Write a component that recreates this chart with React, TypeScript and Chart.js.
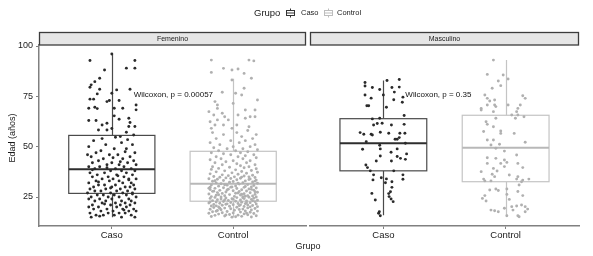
import React, { useEffect, useRef } from "react";
import { Chart, registerables } from "chart.js";
Chart.register(...registerables);

const categories = ["Caso", "Control"];
const facets = ["Femenino", "Masculino"];
const yTicks = [25, 50, 75, 100];
const legendTitle = "Grupo";
const xTitle = "Grupo";
const yTitle = "Edad (años)";
const pLabels = ["Wilcoxon, p = 0.00057", "Wilcoxon, p = 0.35"];
const pLabelPos = [1.18, 76];

// box stats: [lower whisker, Q1, median, Q3, upper whisker]
const femCasoBox = [15, 26.8, 38.8, 55.6, 96];
const femControlBox = [15, 22.9, 31.6, 47.7, 83.7];
const mascCasoBox = [16, 38, 51.7, 63.9, 82.9];
const mascControlBox = [15.2, 32.6, 49.5, 65.6, 93];

// jittered points: [offset from category, age]
const femCasoPts = [
  [0.0, 96], [-0.18, 92.8], [0.19, 92.8], [0.12, 89], [0.19, 89], [-0.06, 88.1], [-0.14, 82.3], [-0.1, 84],
  [-0.17, 80.7], [-0.18, 79.5], [-0.1, 78.5], [-0.12, 76.2], [-0.18, 73.6], [-0.15, 73.6], [0.04, 78.2],
  [0.15, 78.5], [-0.04, 72.4], [-0.02, 72.9], [0.0, 76.5], [0.06, 72.9], [-0.19, 69.1], [-0.14, 69.6],
  [-0.12, 68.9], [0.02, 69.1], [0.09, 69.1], [0.2, 70.7], [0.2, 68.3], [-0.19, 63], [-0.13, 63], [-0.08, 60.8],
  [-0.04, 61.6], [0.02, 65.3], [0.06, 63.6], [0.14, 64.1], [-0.04, 58.3], [0.0, 59], [-0.11, 58.3], [0.15, 62],
  [0.14, 60], [0.19, 60], [0.12, 57.2], [0.18, 55.8], [0.07, 55], [0.03, 54.7],
  [-0.15, 53], [0.08, 52], [-0.05, 51], [0.17, 51], [-0.19, 50], [0.02, 49], [0.12, 49], [-0.09, 48], [0.19, 47],
  [-0.13, 47], [0.05, 46], [-0.02, 46], [0.15, 45], [-0.17, 45], [0.09, 44], [-0.07, 44], [0.18, 43], [-0.11, 43],
  [0.0, 42], [0.13, 42], [-0.16, 42], [0.06, 41], [-0.04, 41], [0.2, 41], [-0.19, 40], [0.1, 40], [-0.1, 40],
  [0.03, 39], [0.16, 39], [-0.14, 39], [-0.01, 38], [0.08, 38], [0.19, 38], [-0.18, 37], [-0.06, 37], [0.12, 37],
  [0.04, 36], [-0.12, 36], [0.17, 36], [-0.03, 35], [0.1, 35], [-0.16, 35], [0.01, 34], [0.14, 34], [-0.08, 34],
  [0.2, 34], [-0.13, 33], [0.06, 33], [-0.02, 33], [0.16, 32], [-0.19, 32], [0.09, 32], [-0.06, 31], [0.03, 31],
  [0.18, 31], [-0.11, 31], [0.11, 30], [-0.15, 30], [0.0, 30], [0.15, 30], [-0.05, 29], [0.07, 29], [-0.18, 29],
  [0.19, 29], [-0.09, 28], [0.04, 28], [0.13, 28], [-0.14, 28], [-0.01, 27], [0.09, 27], [-0.2, 27], [0.17, 27],
  [-0.07, 26], [0.02, 26], [0.12, 26], [-0.12, 26], [0.06, 25], [-0.17, 25], [0.2, 25], [-0.03, 25], [0.14, 24],
  [-0.1, 24], [0.0, 24], [-0.19, 24], [0.08, 23], [-0.05, 23], [0.16, 23], [-0.14, 23], [0.03, 22], [0.11, 22],
  [-0.08, 22], [0.19, 22], [-0.16, 21], [-0.01, 21], [0.07, 21], [0.15, 21], [-0.11, 20], [0.04, 20], [-0.19, 20],
  [0.12, 20], [-0.04, 19], [0.09, 19], [0.18, 19], [-0.15, 19], [0.01, 18], [-0.09, 18], [0.14, 18], [0.2, 18],
  [-0.18, 17], [0.06, 17], [-0.03, 17], [0.11, 17], [-0.13, 16], [0.16, 16], [0.02, 16], [-0.07, 16], [0.19, 15],
  [-0.17, 15], [0.08, 15], [-0.1, 15.5], [0.13, 53.5], [-0.08, 54], [0.01, 44.5], [-0.2, 46], [0.11, 47.5],
  [-0.04, 39.5], [0.05, 35.5], [-0.11, 32.5], [0.17, 26.5], [-0.06, 21.5], [0.1, 18.5], [-0.16, 38.5], [0.07, 42.5],
  [0.14, 33.5], [-0.01, 29.5],
];

const femControlPts = [
  [-0.18, 93], [0.13, 93], [0.17, 92.6], [-0.18, 86.9], [-0.08, 88.9], [-0.01, 88.1], [0.04, 88.6], [0.09, 86.4],
  [0.15, 84], [-0.01, 83.1], [-0.09, 77], [0.02, 76.5], [0.07, 75.7], [0.09, 79], [0.2, 73.2], [-0.15, 72.4],
  [0.0, 71.5], [-0.13, 70.7], [-0.13, 69], [0.1, 68.2], [-0.2, 67.4], [0.18, 68.2], [-0.16, 65.7], [-0.09, 66.6],
  [-0.07, 64.9], [0.04, 65.7], [0.14, 64.9], [-0.19, 62.4], [-0.13, 63.3], [-0.04, 63.3], [0.1, 64.1], [0.18, 64.9],
  [-0.15, 60.8], [-0.08, 60.8], [0.03, 60.8], [0.13, 59.9], [-0.01, 59.1], [-0.18, 59.1],
  [0.12, 58], [-0.17, 57], [0.03, 57], [0.19, 56], [-0.08, 56], [0.07, 55], [-0.14, 54], [0.16, 54], [-0.02, 53],
  [0.1, 53], [-0.19, 52], [0.05, 52], [0.18, 51], [-0.11, 51], [0.0, 50],
  [0.14, 50], [-0.16, 49.5], [0.08, 49], [-0.05, 49], [0.2, 48.5], [-0.12, 48], [0.02, 48], [0.12, 47.5], [-0.18, 47],
  [0.06, 47], [-0.08, 46.5], [0.17, 46], [-0.02, 46], [0.1, 45.5], [-0.14, 45], [0.04, 45], [0.19, 44.5], [-0.1, 44],
  [0.08, 44], [-0.19, 43.5], [0.0, 43], [0.14, 43], [-0.06, 42.5], [0.11, 42], [-0.15, 42], [0.03, 41.5], [0.18, 41],
  [-0.09, 41], [0.06, 40.5], [-0.17, 40],
  [0.13, 40], [-0.03, 39.8], [0.09, 39.5], [-0.12, 39.2], [0.19, 39], [-0.18, 38.7], [0.02, 38.5], [0.15, 38.2],
  [-0.07, 38], [0.07, 37.7], [-0.14, 37.5], [0.2, 37.3], [-0.01, 37], [0.11, 36.8], [-0.19, 36.5], [0.04, 36.3],
  [-0.09, 36], [0.16, 35.8], [-0.04, 35.6], [0.09, 35.4], [-0.16, 35.2], [0.13, 35], [0.01, 35], [-0.11, 34.8],
  [0.18, 34.7],
  [-0.06, 34.5], [0.06, 34.3], [-0.2, 34.1], [0.14, 34], [-0.13, 33.8], [0.03, 33.6], [0.19, 33.4], [-0.08, 33.2],
  [0.1, 33], [-0.17, 32.8], [0.0, 32.7], [0.16, 32.5], [-0.03, 32.3], [0.08, 32.1], [-0.14, 32], [0.2, 31.8],
  [-0.1, 31.6], [0.05, 31.4], [0.12, 31.2], [-0.18, 31], [-0.05, 30.9], [0.17, 30.7], [0.02, 30.5], [-0.12, 30.4],
  [0.1, 30.2], [-0.01, 30], [0.15, 30], [-0.19, 29.9], [0.07, 34.9], [-0.15, 33.1], [0.04, 31.9], [0.18, 32.9],
  [-0.07, 31.1], [0.13, 33.7], [-0.02, 34.2],
  [0.09, 29.8], [-0.08, 29.6], [0.19, 29.5], [-0.15, 29.3], [0.03, 29.2], [0.13, 29], [-0.04, 28.9], [-0.19, 28.7],
  [0.07, 28.6], [0.17, 28.4], [-0.11, 28.3], [0.0, 28.1], [0.11, 28], [-0.17, 27.8], [0.05, 27.7], [-0.06, 27.5],
  [0.2, 27.4], [-0.13, 27.2], [0.14, 27.1], [0.02, 26.9], [-0.09, 26.8], [0.09, 26.6], [-0.2, 26.5], [0.18, 26.3],
  [-0.03, 26.2], [0.06, 26], [-0.14, 25.9], [0.12, 25.7], [-0.07, 25.6], [0.16, 25.5], [0.01, 25.3], [-0.18, 25.2],
  [0.08, 25.1], [-0.1, 25], [0.19, 25], [-0.02, 29.9], [0.15, 28.8], [-0.16, 27.9], [0.04, 27], [-0.12, 26.1],
  [0.1, 25.4], [-0.05, 28.5], [0.18, 27.6], [-0.2, 29.4], [0.07, 26.4],
  [0.13, 24.9], [-0.15, 24.8], [0.03, 24.7], [-0.06, 24.5], [0.17, 24.4], [-0.19, 24.3], [0.09, 24.2], [-0.1, 24],
  [0.0, 23.9], [0.15, 23.8], [-0.13, 23.7], [0.06, 23.5], [0.2, 23.4], [-0.04, 23.3], [-0.17, 23.2], [0.11, 23],
  [0.02, 22.9], [-0.08, 22.8], [0.18, 22.7], [-0.14, 22.5], [0.07, 22.4], [-0.02, 22.3], [0.14, 22.2], [-0.2, 22],
  [-0.11, 21.9], [0.04, 21.8], [0.1, 21.7], [0.19, 21.5], [-0.06, 21.4], [-0.16, 21.3], [0.0, 21.2], [0.12, 21],
  [-0.09, 20.9], [0.16, 20.8], [0.05, 20.7], [-0.18, 20.5], [-0.03, 20.4], [0.09, 20.3], [0.2, 20.2], [-0.12, 20],
  [0.08, 24.6], [-0.01, 24.1], [-0.07, 23.6], [0.16, 23.1], [-0.19, 22.6], [0.11, 22.1], [-0.05, 21.6], [0.06, 21.1],
  [-0.14, 20.6], [0.14, 20.1],
  [0.03, 19.9], [-0.16, 19.8], [0.12, 19.6], [-0.07, 19.5], [0.18, 19.3], [-0.02, 19.2], [0.08, 19], [-0.19, 18.9],
  [-0.1, 18.7], [0.15, 18.6], [0.01, 18.4], [-0.13, 18.3], [0.1, 18.1], [0.2, 18], [-0.05, 17.8], [-0.17, 17.7],
  [0.06, 17.5], [0.14, 17.4], [-0.09, 17.2], [0.0, 17.1], [-0.2, 16.9], [0.17, 16.8], [0.09, 16.6], [-0.12, 16.5],
  [-0.03, 16.3], [0.12, 16.2], [0.04, 16], [-0.15, 15.9], [0.19, 15.7], [-0.07, 15.6], [0.07, 15.4], [-0.18, 15.3],
  [0.15, 15.1], [-0.01, 15], [-0.11, 19.4], [0.05, 18.8], [-0.14, 17.9], [0.11, 17], [-0.06, 16.1], [0.02, 15.2],
];

const mascCasoPts = [
  [0.03, 82.9], [0.13, 83.4], [-0.15, 81.9], [-0.15, 80.1], [-0.09, 79.4], [-0.03, 78.4], [0.07, 79.4], [0.13, 79.6],
  [0.09, 77.1], [-0.15, 75.7], [0.0, 75.7], [-0.1, 74.1], [0.16, 74.6], [0.085, 73.3], [-0.135, 70.3], [-0.12, 70.3],
  [0.025, 69.6], [0.155, 72.1], [0.17, 65.5], [-0.09, 63.8], [-0.03, 64.1], [-0.05, 61.5], [-0.01, 61.6],
  [-0.08, 60.8], [0.066, 60.8], [0.17, 61.1], [-0.19, 57], [-0.16, 56.2], [-0.1, 56.2], [-0.09, 55.8],
  [-0.025, 57.2], [0.044, 56.7], [0.135, 56.7], [0.176, 56.7], [0.13, 54.5], [0.113, 53.7], [0.096, 53.7],
  [-0.14, 52.5], [0.18, 51.7], [-0.03, 50.7], [-0.17, 48.7], [-0.025, 48.9], [0.113, 48.9], [0.063, 47.2],
  [-0.025, 45.4], [0.113, 45.1], [0.14, 44.2], [0.19, 46.4], [0.18, 43.7], [0.066, 42.9], [-0.058, 42.9],
  [-0.143, 40.9], [-0.13, 39.6], [-0.107, 38], [0.085, 38], [-0.08, 36], [-0.017, 34.6], [0.16, 36],
  [-0.085, 33.5], [0.16, 33.8], [0.025, 34], [0.017, 32.1], [0.07, 32.6], [0.07, 29.8], [-0.094, 26.8],
  [0.058, 27.6], [0.047, 25.2], [0.063, 24], [-0.066, 23.5], [-0.033, 17.7], [-0.039, 16.9], [-0.025, 15.7],
  [0.08, 22.7], [0.044, 26.7],
];

const mascControlPts = [
  [-0.1, 93], [-0.15, 85.9], [-0.02, 85.6], [-0.06, 82.6], [0.02, 83.6], [-0.04, 80.3], [-0.11, 79], [-0.17, 75.7],
  [-0.15, 74], [0.14, 75.3], [0.16, 74], [-0.09, 73.2], [-0.13, 72.7], [-0.09, 70.7], [-0.15, 70.7], [-0.2, 69],
  [-0.08, 69.9], [0.02, 70.7], [0.12, 70.7], [0.1, 69], [0.09, 67.4], [-0.2, 68.2], [-0.1, 67.4], [0.1, 65.7],
  [0.05, 65.7], [0.15, 64.9], [-0.16, 62.4], [-0.15, 61.1], [-0.08, 64.1], [0.08, 64.1], [-0.1, 59.9],
  [-0.18, 57.5], [-0.04, 57.8], [-0.04, 56.6], [0.07, 56.6], [-0.15, 53.3], [-0.1, 53.3], [-0.12, 50.8],
  [0.16, 52.2], [-0.08, 49.2], [-0.05, 51.2], [-0.01, 47.8], [-0.15, 44.5], [0.09, 45.9], [-0.08, 44.2],
  [-0.01, 43.4], [0.01, 42.2], [-0.15, 41.7], [-0.04, 41.7], [0.1, 41.7], [-0.1, 39.2], [-0.2, 37.6],
  [-0.07, 37.9], [-0.01, 40.1], [-0.11, 36.3], [0.14, 39.6], [-0.09, 35.1], [0.03, 35.9], [0.1, 35.1],
  [-0.18, 33.9], [-0.12, 33], [-0.17, 33], [0.09, 33.9], [0.14, 33.4], [0.19, 33.9], [0.13, 32.6], [0.11, 31],
  [-0.08, 29], [-0.06, 28.2], [0.01, 29], [0.1, 27.7], [-0.17, 25.7], [-0.19, 24.3], [-0.16, 23], [0.01, 26.3],
  [0.03, 23.8], [0.14, 25.7], [0.05, 20.2], [0.09, 20.5], [0.13, 21], [0.16, 20.2], [0.18, 19], [-0.01, 19.4],
  [-0.12, 18.5], [-0.09, 18.2], [0.06, 18.5], [0.16, 17.7], [0.11, 15.2], [-0.06, 17.7], [0.01, 15.7],
  [0.1, 15.7], [-0.13, 28.5],
];

const FONT = '"Liberation Sans", Arial, Helvetica, sans-serif';
const W = 593;
const H = 256;
const Y_MIN = 10.6;
const Y_MAX = 100.5;
const BOX_HALF = 0.355;

const casoColor = "#2a2a2a";
const controlColor = "#b0b0b0";
const boxStroke = ["#4a4a4a", "#c4c4c4"];
const medianStroke = ["#2e2e2e", "#b8b8b8"];
const axisColor = "#808080";

function makeChart(
  canvas: HTMLCanvasElement,
  facetIdx: number,
  pts: number[][][],
  boxes: number[][],
  first: boolean
) {
  const padLeft = first ? 0 : 310;
  const padRight = first ? W - 306 : W - 579;

  const boxPlugin = {
    id: "boxes" + facetIdx,
    beforeDatasetsDraw(chart: any) {
      const { ctx, scales } = chart;
      const x = scales.x;
      const y = scales.y;
      boxes.forEach((b, i) => {
        const c = i + 1;
        const cx = Math.round(x.getPixelForValue(c)) + 0.5;
        const l = x.getPixelForValue(c - BOX_HALF);
        const r = x.getPixelForValue(c + BOX_HALF);
        const pLo = y.getPixelForValue(b[0]);
        const pQ1 = y.getPixelForValue(b[1]);
        const pMed = y.getPixelForValue(b[2]);
        const pQ3 = y.getPixelForValue(b[3]);
        const pHi = y.getPixelForValue(b[4]);
        ctx.save();
        ctx.strokeStyle = boxStroke[i];
        ctx.lineWidth = 1.2;
        ctx.beginPath();
        ctx.moveTo(cx, pHi);
        ctx.lineTo(cx, pQ3);
        ctx.moveTo(cx, pQ1);
        ctx.lineTo(cx, pLo);
        ctx.stroke();
        ctx.fillStyle = "#ffffff";
        ctx.fillRect(l, pQ3, r - l, pQ1 - pQ3);
        ctx.strokeRect(l, pQ3, r - l, pQ1 - pQ3);
        ctx.strokeStyle = medianStroke[i];
        ctx.lineWidth = 2;
        ctx.beginPath();
        ctx.moveTo(l, pMed);
        ctx.lineTo(r, pMed);
        ctx.stroke();
        ctx.restore();
      });
    },
    afterDraw(chart: any) {
      const { ctx, chartArea, scales } = chart;
      const x = scales.x;
      const y = scales.y;
      ctx.save();
      // strip
      const sTop = chartArea.top - 13;
      ctx.fillStyle = "#e6e6e6";
      ctx.fillRect(chartArea.left, sTop, chartArea.right - chartArea.left, 13);
      ctx.strokeStyle = "#3c3c3c";
      ctx.lineWidth = 1.3;
      ctx.strokeRect(chartArea.left + 0.5, sTop + 0.5, chartArea.right - chartArea.left - 1, 12.5);
      ctx.fillStyle = "#222222";
      ctx.font = `7px ${FONT}`;
      ctx.textAlign = "center";
      ctx.textBaseline = "middle";
      ctx.fillText(facets[facetIdx], (chartArea.left + chartArea.right) / 2, sTop + 7);
      // p-value label
      ctx.font = `8px ${FONT}`;
      ctx.fillStyle = "#111111";
      ctx.textAlign = "left";
      ctx.fillText(pLabels[facetIdx], x.getPixelForValue(pLabelPos[0]), y.getPixelForValue(pLabelPos[1]));

      if (first) {
        // y title
        ctx.save();
        ctx.translate(13, 138);
        ctx.rotate(-Math.PI / 2);
        ctx.font = `9px ${FONT}`;
        ctx.fillStyle = "#1a1a1a";
        ctx.textAlign = "center";
        ctx.textBaseline = "middle";
        ctx.fillText(yTitle, 0, 0);
        ctx.restore();
        // x title
        ctx.font = `9px ${FONT}`;
        ctx.fillStyle = "#1a1a1a";
        ctx.textAlign = "center";
        ctx.textBaseline = "middle";
        ctx.fillText(xTitle, 308, 247);
        // legend
        ctx.textAlign = "left";
        ctx.font = `9.5px ${FONT}`;
        ctx.fillText(legendTitle, 254, 13);
        const keys = [
          { x: 286, label: categories[0], lx: 301, col: "#333333" },
          { x: 324, label: categories[1], lx: 337, col: "#bdbdbd" },
        ];
        keys.forEach((k) => {
          const ky = 8.5;
          ctx.strokeStyle = k.col;
          ctx.lineWidth = 1;
          ctx.fillStyle = "#ffffff";
          ctx.fillRect(k.x + 0.5, ky + 2, 8, 5);
          ctx.strokeRect(k.x + 0.5, ky + 2, 8, 5);
          ctx.beginPath();
          ctx.moveTo(k.x + 4.5, ky);
          ctx.lineTo(k.x + 4.5, ky + 2);
          ctx.moveTo(k.x + 4.5, ky + 7);
          ctx.lineTo(k.x + 4.5, ky + 9);
          ctx.moveTo(k.x + 0.5, ky + 4.5);
          ctx.lineTo(k.x + 8.5, ky + 4.5);
          ctx.stroke();
          ctx.fillStyle = "#1a1a1a";
          ctx.font = `7.5px ${FONT}`;
          ctx.fillText(k.label, k.lx, 13);
        });
      }
      ctx.restore();
    },
  };

  return new Chart(canvas, {
    type: "scatter",
    data: {
      datasets: [
        {
          label: categories[0],
          data: pts[0].map((p) => ({ x: 1 + p[0], y: p[1] })),
          backgroundColor: casoColor,
          borderWidth: 0,
          pointRadius: 1.45,
        },
        {
          label: categories[1],
          data: pts[1].map((p) => ({ x: 2 + p[0], y: p[1] })),
          backgroundColor: controlColor,
          borderWidth: 0,
          pointRadius: 1.45,
        },
      ],
    },
    options: {
      responsive: false,
      animation: false,
      devicePixelRatio: 1,
      events: [],
      layout: { padding: { left: padLeft, right: padRight, top: 45, bottom: 8 } },
      plugins: { legend: { display: false }, tooltip: { enabled: false } },
      scales: {
        x: {
          type: "linear",
          min: 0.4,
          max: 2.6,
          afterBuildTicks: (s: any) => {
            s.ticks = categories.map((_, i) => ({ value: i + 1 }));
          },
          afterFit: (s: any) => {
            s.height = 22;
          },
          ticks: {
            callback: (v: any) => categories[Math.round(v) - 1] ?? "",
            color: "#1a1a1a",
            font: { family: FONT, size: 9.5 },
            padding: 1,
            maxRotation: 0,
          },
          grid: { drawOnChartArea: false, tickLength: 3, color: axisColor, tickWidth: 1 },
          border: { display: true, color: axisColor, width: 1.5 },
        },
        y: {
          display: first,
          min: Y_MIN,
          max: Y_MAX,
          afterBuildTicks: (s: any) => {
            s.ticks = yTicks.map((v) => ({ value: v }));
          },
          afterFit: (s: any) => {
            s.width = first ? 39 : 0;
          },
          ticks: {
            color: "#1a1a1a",
            font: { family: FONT, size: 9 },
            padding: 3,
          },
          grid: { drawOnChartArea: false, tickLength: 3, color: axisColor, tickWidth: 1 },
          border: { display: true, color: axisColor, width: 1.5 },
        },
      },
    },
    plugins: [boxPlugin],
  } as any);
}

export default function App() {
  const ref1 = useRef<HTMLCanvasElement>(null);
  const ref2 = useRef<HTMLCanvasElement>(null);

  useEffect(() => {
    const c1 = makeChart(ref1.current!, 0, [femCasoPts, femControlPts], [femCasoBox, femControlBox], true);
    const c2 = makeChart(ref2.current!, 1, [mascCasoPts, mascControlPts], [mascCasoBox, mascControlBox], false);
    return () => {
      c1.destroy();
      c2.destroy();
    };
  }, []);

  const cs: React.CSSProperties = { position: "absolute", left: 0, top: 0, width: W, height: H };
  return (
    <div style={{ position: "fixed", left: 0, top: 0, width: W, height: H, background: "#ffffff" }}>
      <canvas ref={ref1} width={W} height={H} style={cs} />
      <canvas ref={ref2} width={W} height={H} style={cs} />
    </div>
  );
}
